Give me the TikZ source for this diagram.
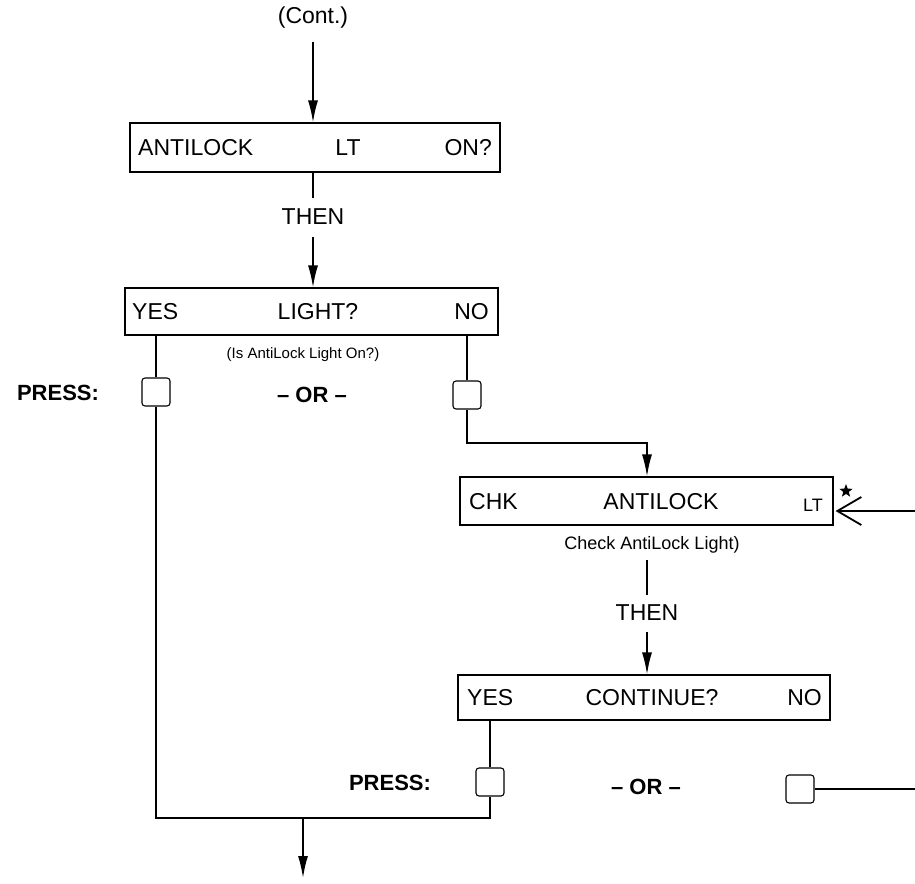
\documentclass[tikz,border=0pt]{standalone}
\usepackage{fontspec}
\setmainfont{Liberation Sans}
\usetikzlibrary{arrows.meta,shapes.geometric}
\begin{document}
\begin{tikzpicture}[x=1pt,y=-1pt,
  box/.style={draw, line width=1.1pt, minimum width=#1, inner sep=0pt},
  btn/.style={draw, line width=1.1pt, rounded corners=3pt, minimum width=28pt, minimum height=28pt, inner sep=0pt},
  txt/.style={font=\fontsize{23}{23}\selectfont, inner sep=0pt},
  btxt/.style={font=\fontsize{22}{22}\selectfont\bfseries, inner sep=0pt},
  small/.style={font=\fontsize{15}{15}\selectfont, inner sep=0pt},
  ln/.style={line width=1.5pt},
  arr/.style={line width=1.6pt, -{Latex[length=22pt,width=10pt]}},
  openarr/.style={line width=1.5pt, -{Straight Barb[length=24pt,width=28pt,line width=1.8pt]}}
]
\useasboundingbox (0,0) rectangle (915,883);

% top
\node[txt] (cont) at (313,18) {(Cont.)};
\coordinate (c0) at (313,42);
\node[box=370pt, minimum height=49pt] (b1) at (315,147.5) {};
\node[txt, anchor=west] (b1a) at (138,148) {ANTILOCK};
\node[txt] (b1b) at (348,148) {LT};
\node[txt, anchor=east] (b1c) at (492,148) {ON?};
\draw[arr] (c0) -- (c0 |- b1.north);

\node[txt] (then1) at (313,217) {THEN};
\coordinate (t1a) at (313,198);
\coordinate (t1b) at (313,237);
\draw[ln] (t1a |- b1.south) -- (t1a);

% box 2
\node[box=373pt, minimum height=47pt] (b2) at (311.5,311.5) {};
\node[txt, anchor=west] (b2a) at (132,312) {YES};
\node[txt] (b2b) at (318,312) {LIGHT?};
\node[txt, anchor=east] (b2c) at (489,312) {NO};
\node[small] (sub1) at (303,355) {(Is AntiLock Light On?)};
\draw[arr] (t1b) -- (t1b |- b2.north);

\node[btxt] (press1) at (58,393) {PRESS:};
\node[btxt] (or1) at (312,395) {– OR –};
\node[btn] (p1) at (156,392) {};
\node[btn] (p2) at (467,395) {};
\draw[ln] (p1.north |- b2.south) -- (p1.north);
\draw[ln] (p2.north |- b2.south) -- (p2.north);

% box 3
\coordinate (j1) at (647,443);
\node[box=373pt, minimum height=48pt] (b3) at (646.5,501) {};
\node[txt, anchor=west] (b3a) at (469,502) {CHK};
\node[txt] (b3b) at (661,502) {ANTILOCK};
\node[font=\fontsize{18}{18}\selectfont, inner sep=0pt, anchor=west] (b3c) at (803,505) {LT};
\node[star, star points=5, star point ratio=2.4, fill=black, inner sep=0pt, minimum size=14pt] (st) at (846,491) {};
\draw[arr] (p2.south) |- (j1) -- (j1 |- b3.north);
\coordinate (r1) at (915,511);
\draw[openarr] (r1) -- ([xshift=2pt]b3.east |- r1);
\node[font=\fontsize{18}{18}\selectfont, inner sep=0pt] (sub2) at (652,545) {Check AntiLock Light)};

\coordinate (t2a) at (647,560);
\coordinate (t2b) at (647,595);
\draw[ln] (t2a) -- (t2b);
\node[txt] (then2) at (647,613) {THEN};
\coordinate (t2c) at (647,632);

% box 4
\node[box=372pt, minimum height=45pt] (b4) at (644,697.5) {};
\node[txt, anchor=west] (b4a) at (467,698) {YES};
\node[txt] (b4b) at (652,698) {CONTINUE?};
\node[txt, anchor=east] (b4c) at (822,698) {NO};
\draw[arr] (t2c) -- (t2c |- b4.north);

\node[btxt] (press2) at (390,783) {PRESS:};
\node[btxt] (or2) at (646,787) {– OR –};
\node[btn] (p3) at (490,782) {};
\node[btn] (p4) at (800,789) {};
\draw[ln] (p3.north |- b4.south) -- (p3.north);
\coordinate (r2) at (915,789);
\draw[ln] (p4.east) -- (r2);

% bottom
\coordinate (j2) at (303,818);
\coordinate (e1) at (303,878);
\draw[ln] (p1.south) |- (j2) -| (p3.south);
\draw[arr] (j2) -- (e1);
\end{tikzpicture}
\end{document}
